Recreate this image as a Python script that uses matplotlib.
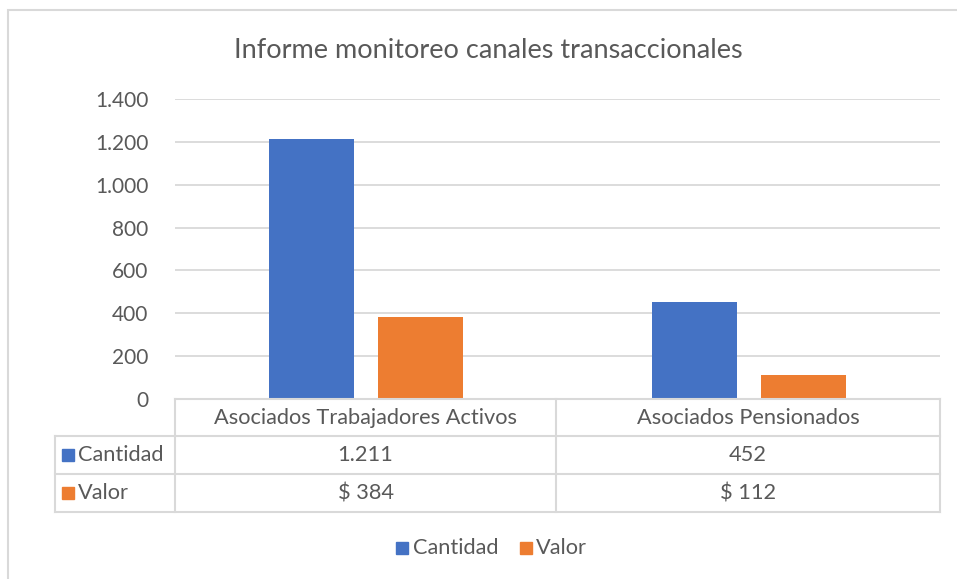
import matplotlib
matplotlib.use("Agg")
import matplotlib.pyplot as plt
from matplotlib.patches import Rectangle
from matplotlib.lines import Line2D

plt.rcParams['font.family'] = ['Lato', 'DejaVu Sans']

title = "Informe monitoreo canales transaccionales"
categories = ["Asociados Trabajadores Activos", "Asociados Pensionados"]
series_names = ["Cantidad", "Valor"]
cantidad = [1211, 452]
valor = [384, 112]
cantidad_labels = ["1.211", "452"]
valor_labels = ["$ 384", "$ 112"]
yticks = [0, 200, 400, 600, 800, 1000, 1200, 1400]
colors = ["#4472C4", "#ED7D31"]
txt = "#595959"
grid = "#D9D9D9"

W, H = 957, 579
fig = plt.figure(figsize=(W / 100, H / 100), dpi=100)

def fx(px):
    return px / W

def fy(py):
    return 1 - py / H

# outer chart border
fig.add_artist(Rectangle((fx(8), fy(H + 20)), fx(W + 40), fy(10) - fy(H + 20),
                         transform=fig.transFigure, fill=False, edgecolor=grid, lw=1.5))

x0, x1, ytop, ybot = 175, 940, 99, 399
ax = fig.add_axes([fx(x0), fy(ybot), fx(x1) - fx(x0), fy(ytop) - fy(ybot)])
ax.set_xlim(-0.5, len(categories) - 0.5)
ax.set_ylim(0, 1400)
xs = list(range(len(categories)))
w = 0.222
off = 0.143
ax.bar([x - off for x in xs], cantidad, width=w, color=colors[0], zorder=3)
ax.bar([x + off for x in xs], valor, width=w, color=colors[1], zorder=3)
ax.set_yticks(yticks)
ax.set_yticklabels([f"{v:,.0f}".replace(",", ".") for v in yticks], fontsize=15, color=txt)
ax.set_xticks([])
ax.tick_params(axis='y', length=0, pad=19)
ax.grid(axis='y', color=grid, lw=1.3, zorder=0)
for s in ax.spines.values():
    s.set_visible(False)
ax.set_facecolor('none')

fig.text(fx(488), fy(50), title, ha='center', va='center', fontsize=19.5, color=txt)

# data table
colx = [x0, 556, x1]
rows_y = [399, 436, 474, 512]
left_tab = 55
def hline(y, xa, xb):
    fig.add_artist(Line2D([fx(xa), fx(xb)], [fy(y), fy(y)], transform=fig.transFigure, color=grid, lw=1.5))
def vline(x, ya, yb):
    fig.add_artist(Line2D([fx(x), fx(x)], [fy(ya), fy(yb)], transform=fig.transFigure, color=grid, lw=1.5))

hline(rows_y[0], x0, x1)
for y in rows_y[1:]:
    hline(y, left_tab, x1)
for x in colx:
    vline(x, rows_y[0], rows_y[-1])
vline(left_tab, rows_y[1], rows_y[-1])

fs = 15.7
for i, c in enumerate(categories):
    cx = 0.5 * (colx[i] + colx[i + 1])
    fig.text(fx(cx), fy(0.5 * (rows_y[0] + rows_y[1])), c, ha='center', va='center', fontsize=fs, color=txt)
    fig.text(fx(cx), fy(0.5 * (rows_y[1] + rows_y[2])), cantidad_labels[i], ha='center', va='center', fontsize=fs, color=txt)
    fig.text(fx(cx), fy(0.5 * (rows_y[2] + rows_y[3])), valor_labels[i], ha='center', va='center', fontsize=fs, color=txt)

for r, name in enumerate(series_names):
    yc = 0.5 * (rows_y[r + 1] + rows_y[r + 2])
    fig.add_artist(Rectangle((fx(62), fy(yc + 6)), fx(12), fy(yc - 6) - fy(yc + 6),
                             transform=fig.transFigure, color=colors[r]))
    fig.text(fx(78), fy(yc), name, ha='left', va='center', fontsize=fs, color=txt)

# legend
leg_y = 548
leg_items = [(396, 413), (520, 536)]
for (sx, tx), name, col in zip(leg_items, series_names, colors):
    fig.add_artist(Rectangle((fx(sx), fy(leg_y + 6)), fx(12), fy(leg_y - 6) - fy(leg_y + 6),
                             transform=fig.transFigure, color=col))
    fig.text(fx(tx), fy(leg_y), name, ha='left', va='center', fontsize=fs, color=txt)

fig.savefig("out.png", dpi=100)
